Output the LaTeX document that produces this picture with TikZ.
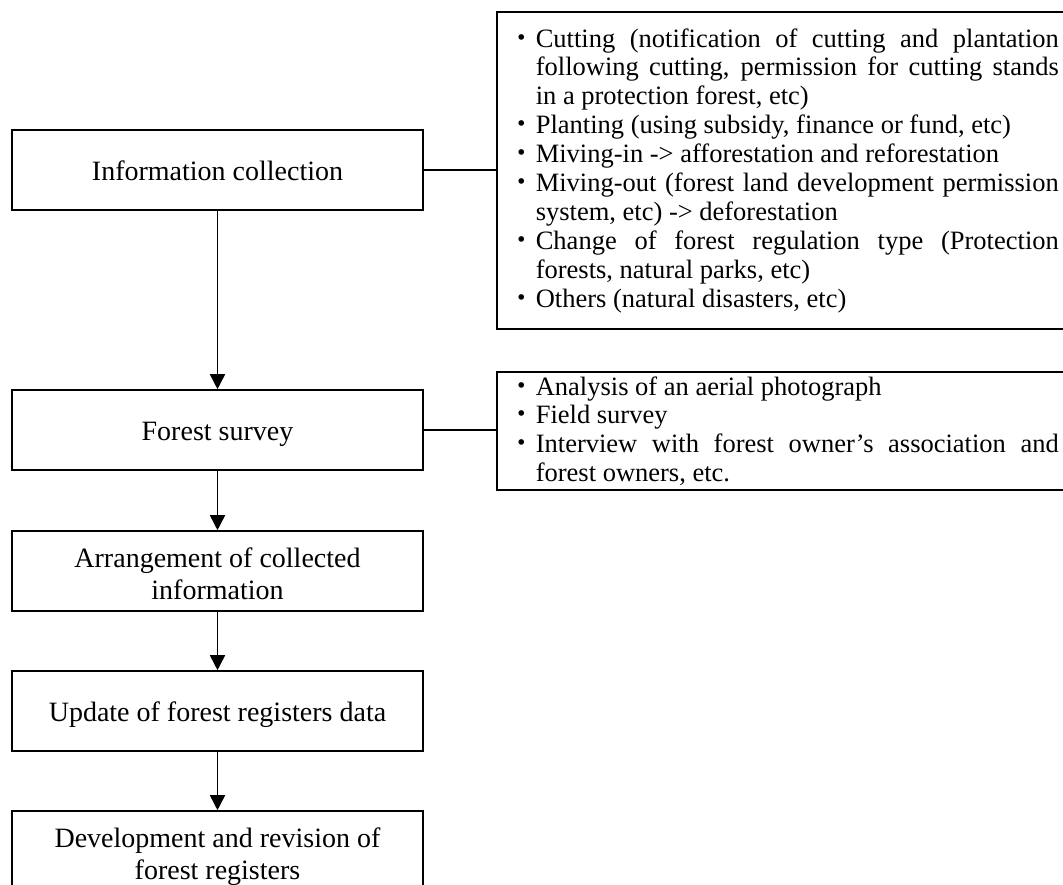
\documentclass[tikz,border=0pt]{standalone}
\usepackage{fontspec}
\setmainfont{Liberation Serif}
\newfontfamily\cjk{Noto Sans CJK JP}
\usetikzlibrary{arrows.meta}
\tolerance=9999
\hyphenpenalty=10000
\newcommand{\litem}[1]{\hangindent=14pt\hangafter=1\noindent\makebox[14pt][c]{\cjk ・}#1\par}

\begin{document}
\begin{tikzpicture}[x=0.5pt, y=-0.5pt, line width=0.8pt, every node/.style={font=\fontsize{14}{15.75}\selectfont}]

	\tikzstyle{arrow1} = [-{Triangle[width=7.5pt,length=7.5pt]}, line width=0.8pt]
	\tikzstyle{box1}=[draw, minimum width=205.5pt, minimum height=40pt, align=center, inner sep=0pt, text height=12pt, text depth=1.5pt]
	\tikzstyle{box2}=[box1, text height=29pt, text depth=1pt]
	\tikzstyle{frame1}=[draw, minimum width=300pt, anchor=north west, inner sep=0pt]
	\tikzstyle{list1}=[anchor=base west, text width=275.5pt, align=justify, inner sep=0pt, font=\fontsize{13.25}{14.45}\selectfont]

	\useasboundingbox (0,0) rectangle (1063,884);
	\clip (0,0) rectangle (1063,884);

	% flow
	\node [box1] (info) at (217.5,170) {Information collection};
	\node [box1] (survey) at (217.5,430) {Forest survey};
	\node [box2] (arrange) at (217.5,571) {Arrangement of collected\\information};
	\node [box1] (update) at (217.5,711) {Update of forest registers data};
	\node [box2] (develop) at (217.5,851) {Development and revision of\\forest registers};

	\draw [arrow1] (info) -- (survey);
	\draw [arrow1] (survey) -- (arrange);
	\draw [arrow1] (arrange) -- (update);
	\draw [arrow1] (update) -- (develop);

	% notes
	\node [frame1, minimum height=158.5pt] (cutbox) at (496,11) {};
	\node [list1] (cutlist) at (507,47) {%
		\litem{Cutting (notification of cutting and plantation\linebreak following cutting, permission for cutting stands\linebreak in a protection forest, etc)}
		\litem{Planting (using subsidy, finance or fund, etc)}
		\litem{Miving-in -> afforestation and reforestation}
		\litem{Miving-out (forest land development permission\linebreak system, etc) -> deforestation}
		\litem{Change of forest regulation type (Protection\linebreak forests, natural parks, etc)}
		\litem{Others (natural disasters, etc)}};

	\node [frame1, minimum height=59pt] (surveybox) at (496,371) {};
	\node [list1] (surveylist) at (507,395) {%
		\litem{Analysis of an aerial photograph}
		\litem{Field survey}
		\litem{Interview with forest owner's association and\linebreak forest owners, etc.}};

	\draw (info.east) -- (info.east -| cutbox.west);
	\draw (survey.east) -- (survey.east -| surveybox.west);

\end{tikzpicture}
\end{document}
